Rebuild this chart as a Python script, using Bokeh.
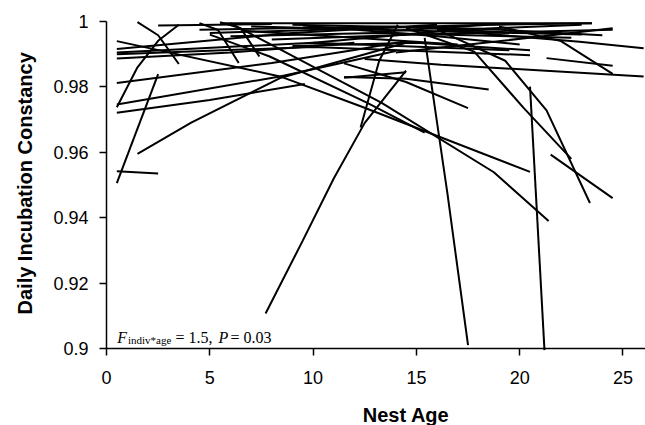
import math
from bokeh.plotting import figure
from bokeh.models import Label, FixedTicker, NumeralTickFormatter, Range1d
from bokeh.embed import file_html
from bokeh.resources import INLINE

# Each nest's fitted incubation-constancy curve: (nest ages, constancy values)
nest_ages = [
    [0.5, 2.5],
    [0.5, 2.5],
    [0.5, 1.5, 2.5, 3.5],
    [1.5, 2.5, 3.5],
    [0.5, 8.4, 12.3, 20.5],
    [0.5, 8.0, 12.0, 14.5],
    [0.5, 8.4, 14.0],
    [1.5, 4.1, 8.4, 14.5],
    [0.5, 5.0, 9.6],
    [0.5, 9.0, 16.0],
    [0.5, 10.0, 19.5],
    [0.5, 10.0, 20.5],
    [0.5, 6.0, 12.0],
    [2.5, 8.0],
    [7.7, 9.5, 11.0, 12.5, 14.5],
    [12.3, 13.2, 14.1],
    [15.4, 16.5, 17.5],
    [20.5, 21.2],
    [11.5, 14.5, 17.5],
    [11.5, 14.5, 18.5],
    [5.0, 7.9, 12.6, 15.4],
    [6.0, 13.3, 18.75, 21.4],
    [14.5, 17.8, 20.2, 22.5],
    [16.0, 19.3, 21.3, 23.4],
    [21.5, 24.5],
    [19.0, 22.0, 24.5],
    [21.3, 24.5],
    [12.5, 16.2, 26.0],
    [16.0, 22.9, 26.0],
    [14.0, 21.0, 24.5],
    [4.5, 5.4, 6.4],
    [5.5, 6.5, 7.4],
    [11.5, 14.5],
    [5.5, 23.5],
    [4.5, 14.0, 20.0],
    [5.0, 12.0, 19.5],
    [6.0, 13.0, 22.5],
    [7.0, 15.0, 23.0],
    [8.0, 15.0, 24.5],
    [9.0, 18.0, 24.0],
    [10.0, 17.0, 23.0],
    [6.5, 12.0, 17.0],
    [9.0, 15.0, 20.5],
    [13.0, 18.5, 23.5],
    [9.5, 16.0, 20.0],
]
nest_constancy = [
    [0.9506, 0.9839],
    [0.9542, 0.9535],
    [0.9738, 0.9860, 0.9941, 0.9990],
    [0.9998, 0.9958, 0.9870],
    [0.9940, 0.9832, 0.9741, 0.9540],
    [0.9812, 0.9873, 0.9913, 0.9940],
    [0.9746, 0.9832, 0.9910],
    [0.9595, 0.9691, 0.9827, 0.9935],
    [0.9721, 0.9760, 0.9809],
    [0.9916, 0.9965, 0.9990],
    [0.9905, 0.9935, 0.9912],
    [0.9900, 0.9922, 0.9897],
    [0.9887, 0.9905, 0.9935],
    [0.9988, 0.9992],
    [0.9107, 0.9330, 0.9520, 0.9690, 0.9850],
    [0.9676, 0.9880, 0.9990],
    [0.9950, 0.9475, 0.9010],
    [0.9801, 0.8995],
    [0.9872, 0.9815, 0.9735],
    [0.9830, 0.9825, 0.9792],
    [0.9960, 0.9893, 0.9752, 0.9660],
    [0.9995, 0.9752, 0.9539, 0.9390],
    [0.9980, 0.9908, 0.9735, 0.9580],
    [0.9975, 0.9880, 0.9728, 0.9445],
    [0.9593, 0.9460],
    [0.9985, 0.9940, 0.9840],
    [0.9888, 0.9865],
    [0.9885, 0.9868, 0.9832],
    [0.9975, 0.9938, 0.9918],
    [0.9905, 0.9954, 0.9979],
    [0.9995, 0.9974, 0.9873],
    [0.9998, 0.9979, 0.9893],
    [0.9828, 0.9845],
    [0.9995, 0.9995],
    [0.9975, 0.9985, 0.9965],
    [0.9965, 0.9978, 0.9992],
    [0.9955, 0.9965, 0.9950],
    [0.9985, 0.9972, 0.9960],
    [0.9945, 0.9960, 0.9975],
    [0.9990, 0.9978, 0.9958],
    [0.9935, 0.9975, 0.9990],
    [0.9972, 0.9950, 0.9930],
    [0.9925, 0.9935, 0.9912],
    [0.9968, 0.9990, 0.9995],
    [0.9988, 0.9955, 0.9930],
]

x_ticks = [0, 5, 10, 15, 20, 25]
y_ticks = [0.9, 0.92, 0.94, 0.96, 0.98, 1.0]
x_label = "Nest Age"
y_label = "Daily Incubation Constancy"

# layout: the frame fills the canvas; the axes cross at (0, 0.9) at pixel (106, 348),
# and y = 1 sits at pixel 21 from the top
W, H, TOP, X0_PX, AXIS_PX = 645, 425, 21, 106, 348
x_end = 26.09
px_per_unit_x = (W - X0_PX) / x_end
x_start = -X0_PX / px_per_unit_x
px_per_unit_y = (AXIS_PX - TOP) / 0.1
y_end = 1.0 + TOP / px_per_unit_y
y_start = 1.0 - (H - TOP) / px_per_unit_y

p = figure(width=W, height=H, output_backend="svg", toolbar_location=None,
           x_range=Range1d(x_start, x_end), y_range=Range1d(y_start, y_end),
           min_border_left=0, min_border_right=0, min_border_top=0,
           min_border_bottom=0)
p.outline_line_color = None
p.xgrid.visible = False
p.ygrid.visible = False
p.background_fill_color = "white"

p.multi_line(xs=nest_ages, ys=nest_constancy, line_color="black", line_width=2)

for ax in (p.xaxis[0], p.yaxis[0]):
    ax.axis_line_color = "black"
    ax.axis_line_width = 1.5
    ax.major_tick_line_color = "black"
    ax.major_tick_line_width = 1.5
    ax.major_tick_in = 0
    ax.major_tick_out = 7
    ax.minor_tick_line_color = None
    ax.major_label_text_font = "Liberation Sans"
    ax.major_label_text_font_size = "18px"
    ax.major_label_text_color = "black"

p.xaxis.fixed_location = 0.9
p.yaxis.fixed_location = 0
p.xaxis.bounds = (0, x_end)
p.yaxis.bounds = (0.9, 1.0)
p.xaxis.ticker = FixedTicker(ticks=x_ticks)
p.yaxis.ticker = FixedTicker(ticks=y_ticks)
p.yaxis.formatter = NumeralTickFormatter(format="0.[00]")
p.xaxis.major_label_standoff = 15
p.yaxis.major_label_standoff = 11

p.add_layout(Label(x=-3.95, y=0.9505, text=y_label, angle=math.pi / 2,
                   text_align="center", text_baseline="middle",
                   text_font="Liberation Sans", text_font_style="bold",
                   text_font_size="20px", text_color="black"))

p.add_layout(Label(x=14.5, y=0.8798, text=x_label, text_align="center",
                   text_baseline="middle", text_font="Liberation Sans",
                   text_font_style="bold", text_font_size="20px",
                   text_color="black"))

serif = "Liberation Serif"
p.add_layout(Label(x=0.52, y=0.9035, text="F", text_font=serif,
                   text_font_style="italic", text_font_size="16px",
                   text_baseline="alphabetic", text_color="black"))
p.add_layout(Label(x=1.04, y=0.9027, text="indiv*age", text_font=serif,
                   text_font_size="11px", text_baseline="alphabetic",
                   text_color="black"))
p.add_layout(Label(x=3.34, y=0.9035, text="= 1.5,", text_font=serif,
                   text_font_size="16px", text_baseline="alphabetic",
                   text_color="black"))
p.add_layout(Label(x=5.42, y=0.9035, text="P", text_font=serif,
                   text_font_style="italic", text_font_size="16px",
                   text_baseline="alphabetic", text_color="black"))
p.add_layout(Label(x=6.0, y=0.9035, text="= 0.03", text_font=serif,
                   text_font_size="16px", text_baseline="alphabetic",
                   text_color="black"))

open("out.html", "w").write(file_html(p, INLINE))
